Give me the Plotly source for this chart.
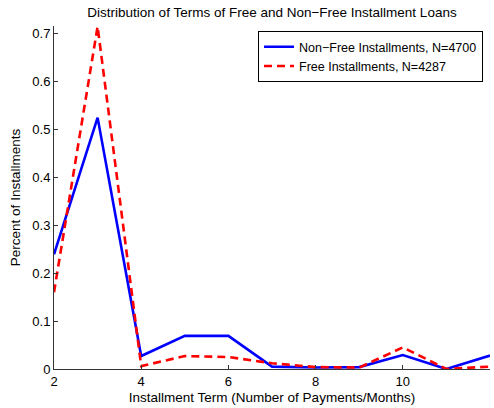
import plotly.graph_objects as go

# Installment term (number of payments / months)
terms = [2, 3, 4, 5, 6, 7, 8, 9, 10, 11, 12]

# Share of installments by term
non_free_share = [0.239, 0.524, 0.027, 0.069, 0.069, 0.005, 0.003, 0.004, 0.029, 0.0, 0.028]
free_share = [0.160, 0.714, 0.006, 0.027, 0.025, 0.012, 0.004, 0.003, 0.045, 0.0, 0.005]

non_free_name = "Non\u2212Free Installments, N=4700"
free_name = "Free Installments, N=4287"

y_ticks = [0, 0.1, 0.2, 0.3, 0.4, 0.5, 0.6, 0.7]
x_ticks = [2, 4, 6, 8, 10, 12]

font_family = "Liberation Sans, Arial, Helvetica, sans-serif"

fig = go.Figure()
fig.add_trace(go.Scatter(
    x=terms, y=non_free_share, mode="lines", name=non_free_name,
    line=dict(color="#0000ff", width=2.6),
))
fig.add_trace(go.Scatter(
    x=terms, y=free_share, mode="lines", name=free_name,
    line=dict(color="#ff0000", width=2.6, dash="8px,5px"),
))

fig.update_layout(
    width=494, height=408,
    margin=dict(l=54, r=4, t=26, b=39),
    paper_bgcolor="white", plot_bgcolor="white",
    font=dict(family=font_family, size=13, color="black"),
    title=dict(
        text="Distribution of Terms of Free and Non\u2212Free Installment Loans",
        x=0.5, xref="paper", xanchor="center",
        y=1 - 12 / 408, yanchor="middle",
        font=dict(size=13.5),
    ),
    showlegend=True,
    legend=dict(
        x=0.984, y=0.985, xanchor="right", yanchor="top",
        bordercolor="black", borderwidth=1, bgcolor="white",
        font=dict(size=12.5), tracegroupgap=0,
    ),
    xaxis=dict(
        range=[2, 12], tickvals=x_ticks, ticks="inside", ticklen=4,
        tickcolor="#333", showline=True, linecolor="#333", linewidth=1,
        showgrid=False, zeroline=False, tickfont=dict(size=13),
        title=dict(text="Installment Term (Number of Payments/Months)",
                   font=dict(size=13.5), standoff=4),
    ),
    yaxis=dict(
        range=[0, 0.715], tickvals=y_ticks,
        ticktext=[("%g" % v) for v in y_ticks],
        ticks="inside", ticklen=4,
        tickcolor="#333", showline=True, linecolor="#333", linewidth=1,
        showgrid=False, zeroline=False, tickfont=dict(size=13),
        title=dict(text="Percent of Installments", font=dict(size=13.5), standoff=8),
    ),
)

fig.write_html("out.html")
